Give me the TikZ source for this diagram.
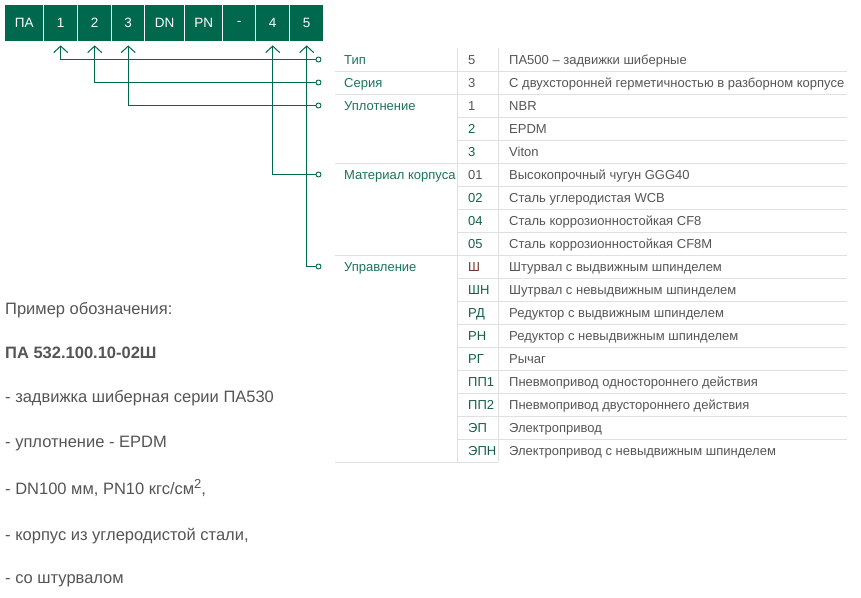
\documentclass[tikz,border=0pt]{standalone}
\usepackage{fontspec}
\setmainfont{Liberation Sans}
\usetikzlibrary{arrows.meta}
\definecolor{boxgreen}{RGB}{0,104,77}
\definecolor{linegreen}{RGB}{0,104,77}
\definecolor{labgreen}{RGB}{26,115,90}
\definecolor{codegreen}{RGB}{20,95,72}
\definecolor{codered}{RGB}{120,50,50}
\definecolor{txtgray}{RGB}{85,85,85}
\definecolor{gridgray}{RGB}{224,224,224}
\tikzset{
  codebox/.style={fill=boxgreen, text=white, inner sep=0pt, minimum height=36pt, anchor=north west, font=\fontsize{13.5}{15}\selectfont},
  endcirc/.style={circle, draw=linegreen, fill=white, line width=0.9pt, inner sep=0pt, minimum size=5pt},
  conn/.style={draw=linegreen, line width=1pt, -{Straight Barb[length=6.5pt, width=14pt, line width=1pt]}},
  grid/.style={draw=gridgray, line width=0.8pt},
  lab/.style={anchor=base west, text=labgreen, inner sep=0pt, yshift=-4.7pt, font=\fontsize{13}{15}\selectfont},
  codetxt/.style={anchor=base west, text=#1, inner sep=0pt, yshift=-4.7pt, font=\fontsize{13}{15}\selectfont},
  desc/.style={anchor=base west, text=txtgray, inner sep=0pt, yshift=-4.7pt, font=\fontsize{13}{15}\selectfont},
  ex/.style={anchor=base west, text=txtgray, inner sep=0pt, yshift=-5.9pt, font=\fontsize{16.5}{19}\selectfont},
}
\begin{document}
\begin{tikzpicture}[x=1pt,y=-1pt]
\useasboundingbox (0,0) rectangle (861,597);
% code boxes
\node[codebox, minimum width=38pt] (b0) at (5,5) {ПА};
\node[codebox, minimum width=33pt] (b1) at (44,5) {1};
\node[codebox, minimum width=33pt] (b2) at (78,5) {2};
\node[codebox, minimum width=32pt] (b3) at (112,5) {3};
\node[codebox, minimum width=39pt] (b4) at (145,5) {DN};
\node[codebox, minimum width=37pt] (b5) at (185,5) {PN};
\node[codebox, minimum width=32pt] (b6) at (223,5) {-};
\node[codebox, minimum width=33pt] (b7) at (256,5) {4};
\node[codebox, minimum width=33pt] (b8) at (290,5) {5};
% end circles
\node[endcirc] (c1) at (318.5,59.5) {};
\node[endcirc] (c2) at (318.5,82.5) {};
\node[endcirc] (c3) at (318.5,105.5) {};
\node[endcirc] (c4) at (318.5,174.5) {};
\node[endcirc] (c5) at (318.5,266.5) {};
% connectors
\draw[conn] (c1.west) -| ([yshift=-4pt]b1.south);
\draw[conn] (c2.west) -| ([yshift=-4pt]b2.south);
\draw[conn] (c3.west) -| ([yshift=-4pt]b3.south);
\draw[conn] (c4.west) -| ([yshift=-4pt]b7.south);
\draw[conn] (c5.west) -| ([yshift=-4pt]b8.south);
% table grid
\draw[grid] (457,48) -- (457,462);
\draw[grid] (498,48) -- (498,462);
\foreach \y in {71,94,163,255} \draw[grid] (335,\y) -- (847,\y);
\foreach \y in {117,140,186,209,232,278,301,324,347,370,393,416,439} \draw[grid] (457,\y) -- (847,\y);
\draw[grid] (335,462) -- (498,462);
% labels
\node[lab] (l1) at (344,59.5) {Тип};
\node[lab] (l2) at (344,82.5) {Серия};
\node[lab] (l3) at (344,105.5) {Уплотнение};
\node[lab] (l4) at (344,174.5) {Материал корпуса};
\node[lab] (l5) at (344,266.5) {Управление};
% codes
\node[codetxt=txtgray] (k0) at (468,59.5) {5};
\node[codetxt=txtgray] (k1) at (468,82.5) {3};
\node[codetxt=txtgray] (k2) at (468,105.5) {1};
\node[codetxt=codegreen] (k3) at (468,128.5) {2};
\node[codetxt=codegreen] (k4) at (468,151.5) {3};
\node[codetxt=txtgray] (k5) at (468,174.5) {01};
\node[codetxt=codegreen] (k6) at (468,197.5) {02};
\node[codetxt=codegreen] (k7) at (468,220.5) {04};
\node[codetxt=codegreen] (k8) at (468,243.5) {05};
\node[codetxt=codered] (k9) at (468,266.5) {Ш};
\node[codetxt=codegreen] (k10) at (468,289.5) {ШН};
\node[codetxt=codegreen] (k11) at (468,312.5) {РД};
\node[codetxt=codegreen] (k12) at (468,335.5) {РН};
\node[codetxt=codegreen] (k13) at (468,358.5) {РГ};
\node[codetxt=codegreen] (k14) at (468,381.5) {ПП1};
\node[codetxt=codegreen] (k15) at (468,404.5) {ПП2};
\node[codetxt=codegreen] (k16) at (468,427.5) {ЭП};
\node[codetxt=codegreen] (k17) at (468,450.5) {ЭПН};
% descriptions
\node[desc] (d0) at (509,59.5) {ПА500 – задвижки шиберные};
\node[desc] (d1) at (509,82.5) {С двухсторонней герметичностью в разборном корпусе};
\node[desc] (d2) at (509,105.5) {NBR};
\node[desc] (d3) at (509,128.5) {EPDM};
\node[desc] (d4) at (509,151.5) {Viton};
\node[desc] (d5) at (509,174.5) {Высокопрочный чугун GGG40};
\node[desc] (d6) at (509,197.5) {Сталь углеродистая WCB};
\node[desc] (d7) at (509,220.5) {Сталь коррозионностойкая CF8};
\node[desc] (d8) at (509,243.5) {Сталь коррозионностойкая CF8M};
\node[desc] (d9) at (509,266.5) {Штурвал с выдвижным шпинделем};
\node[desc] (d10) at (509,289.5) {Шутрвал с невыдвижным шпинделем};
\node[desc] (d11) at (509,312.5) {Редуктор с выдвижным шпинделем};
\node[desc] (d12) at (509,335.5) {Редуктор с невыдвижным шпинделем};
\node[desc] (d13) at (509,358.5) {Рычаг};
\node[desc] (d14) at (509,381.5) {Пневмопривод одностороннего действия};
\node[desc] (d15) at (509,404.5) {Пневмопривод двустороннего действия};
\node[desc] (d16) at (509,427.5) {Электропривод};
\node[desc] (d17) at (509,450.5) {Электропривод с невыдвижным шпинделем};
% example text
\node[ex] (e0) at (5,309) {Пример обозначения:};
\node[ex, font=\fontsize{16.5}{19}\selectfont\bfseries] (e1) at (5,353) {ПА 532.100.10-02Ш};
\node[ex] (e2) at (5,397) {- задвижка шиберная серии ПА530};
\node[ex] (e3) at (5,442) {- уплотнение - EPDM};
\node[ex] (e4) at (5,489) {- DN100 мм, PN10 кгс/см\raisebox{6pt}{\fontsize{13}{13}\selectfont 2},};
\node[ex] (e5) at (5,535) {- корпус из углеродистой стали,};
\node[ex] (e6) at (5,578) {- со штурвалом};
\end{tikzpicture}
\end{document}
